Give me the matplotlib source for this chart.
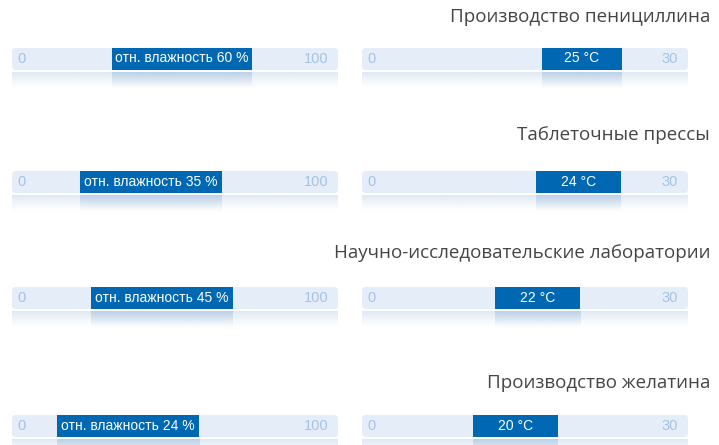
import numpy as np
import matplotlib.pyplot as plt
from matplotlib.colors import to_rgb
from matplotlib.patches import FancyBboxPatch

titles = ['Производство пенициллина', 'Таблеточные прессы',
          'Научно-исследовательские лаборатории', 'Производство желатина']

hum_values = [60, 35, 45, 24]
hum_start = [30.7, 20.9, 24.2, 13.8]
hum_end = [73.5, 64.4, 67.7, 57.4]
hum_max = 100

temp_values = [25, 24, 22, 20]
temp_start = [16.6, 16.0, 12.2, 10.2]
temp_end = [23.9, 23.8, 20.1, 18.0]
temp_max = 30

W, H = 719, 445
track_tops = [48, 171, 287, 415]
title_ys = [17, 135, 253, 383]

track_col = '#e5edf8'
bar_col = '#0068b3'
tick_col = '#a6c3e6'
title_col = '#454545'

plt.rcParams['font.family'] = ['Liberation Sans', 'DejaVu Sans']

fig = plt.figure(figsize=(W / 100, H / 100), dpi=100)
fig.patch.set_facecolor('white')


def reflection(ax, x0, x1, color, top_alpha):
    n = 64
    rgba = np.zeros((n, 2, 4))
    rgba[:, :, :3] = to_rgb(color)
    a = np.linspace(top_alpha, 0, n) ** 1.3
    rgba[:, :, 3] = a[:, None]
    ax.imshow(rgba, extent=(x0, x1, -19, -2), aspect='auto', origin='upper',
              interpolation='bilinear', zorder=1)


def panel(ax, vmax, start, end, label):
    ax.set_xlim(0, vmax)
    ax.set_ylim(-20, 22)
    ax.axis('off')
    px = vmax / 326  # data units per pixel along x
    track = FancyBboxPatch((0, 0), vmax, 22,
                           boxstyle=f'round,pad=0,rounding_size={4 * px}',
                           mutation_aspect=1 / px, facecolor=track_col,
                           edgecolor='none', zorder=2)
    ax.add_patch(track)
    ax.barh(11, end - start, height=22.5, left=start, color=bar_col, zorder=3)
    reflection(ax, 0, vmax, '#dbe6f3', 0.9)
    reflection(ax, start, end, '#b9cfe6', 0.9)
    ax.text(start + (end - start) / 2, 11.5, label, color='white', fontsize=10,
            ha='center', va='center', zorder=4)
    ax.text(0.017, 0.73, '0', transform=ax.transAxes, color=tick_col,
            fontsize=10.5, ha='left', va='center', zorder=4)
    ax.text(0.97, 0.73, str(vmax), transform=ax.transAxes, color=tick_col,
            fontsize=10.5, ha='right', va='center', zorder=4)


for i in range(4):
    top = track_tops[i]
    bottom = H - (top + 42)
    ax1 = fig.add_axes([12 / W, bottom / H, 326 / W, 42 / H])
    panel(ax1, hum_max, hum_start[i], hum_end[i], f'отн. влажность {hum_values[i]} %')
    ax2 = fig.add_axes([362 / W, bottom / H, 326 / W, 42 / H])
    panel(ax2, temp_max, temp_start[i], temp_end[i], f'{temp_values[i]} °C')
    fig.text(710 / W, 1 - title_ys[i] / H, titles[i], family=['Open Sans', 'DejaVu Sans'],
             fontsize=13.5, color=title_col, ha='right', va='center')

fig.savefig('out.png', dpi=100, facecolor='white')
